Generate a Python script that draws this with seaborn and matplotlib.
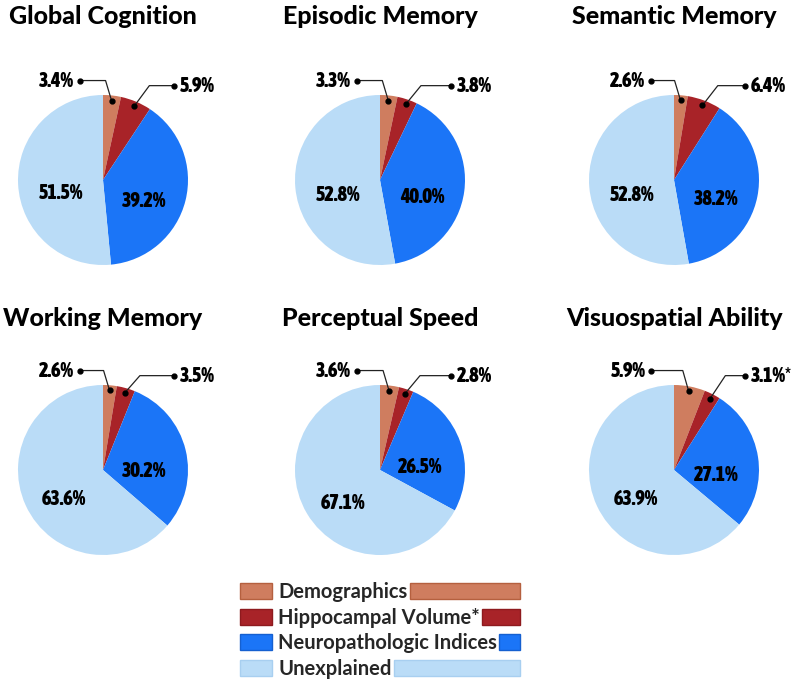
import matplotlib
matplotlib.use("Agg")
import matplotlib.pyplot as plt
from matplotlib.patches import Patch, Rectangle
from matplotlib import font_manager
from matplotlib.font_manager import FontProperties
import numpy as np
import seaborn as sns

sns.set_theme(style="white")
plt.rcParams['font.family'] = ['Lato', 'DejaVu Sans']

# ==========================
# Data
# ==========================
components = ["Demographics", "Hippocampal Volume*", "Neuropathologic Indices", "Unexplained"]
colors = ["#CF7D5F", "#A82328", "#1B75F7", "#BADCF7"]
edge_colors = ["#B5603F", "#8E1A1E", "#1560D0", "#A8CFF0"]

domains = ["Global Cognition", "Episodic Memory", "Semantic Memory",
           "Working Memory", "Perceptual Speed", "Visuospatial Ability"]

demographics = [3.4, 3.3, 2.6, 2.6, 3.6, 5.9]
hippocampal = [5.9, 3.8, 6.4, 3.5, 2.8, 3.1]
neuropath = [39.2, 40.0, 38.2, 30.2, 26.5, 27.1]
unexplained = [51.5, 52.8, 52.8, 63.6, 67.1, 63.9]
hippo_sig = ["", "", "", "", "", "*"]

# narrow bold face for the percentages: a named condensed family if present, Roboto otherwise
label_prop = None
for f in font_manager.fontManager.ttflist:
    w = f.weight if isinstance(f.weight, int) else 400
    if ('Condensed' in f.name or 'Narrow' in f.name) and w >= 600:
        label_prop = FontProperties(fname=f.fname, size=14.5)
        break
if label_prop is None:
    label_prop = FontProperties(family='Roboto', weight='bold', size=12.5)

# ==========================
# Layout (pixel centres of each pie)
# ==========================
W, H = 800, 680
fig = plt.figure(figsize=(W / 100, H / 100), dpi=100)
centers = [(103, 180), (380, 180), (674, 180),
           (103, 470), (380, 470), (674, 470)]
title_y = [17, 17, 17, 318, 318, 318]
R = 85
span = 3.2
size = R * span

for i, name in enumerate(domains):
    cx, cy = centers[i]
    ax = fig.add_axes([(cx - size / 2) / W, 1 - (cy + size / 2) / H, size / W, size / H])
    vals = [demographics[i], hippocampal[i], neuropath[i], unexplained[i]]
    wedges, _ = ax.pie(vals, colors=colors, startangle=90, counterclock=False,
                       radius=1, wedgeprops=dict(linewidth=0))
    ax.set_xlim(-span / 2, span / 2)
    ax.set_ylim(-span / 2, span / 2)
    ax.set_aspect('equal')
    ax.axis('off')

    # large slices: labels inside
    for k in (2, 3):
        w = wedges[k]
        ang = np.deg2rad((w.theta1 + w.theta2) / 2)
        ax.text(0.5 * np.cos(ang), 0.5 * np.sin(ang) - 0.13, f"{vals[k]:.1f}%",
                ha='center', va='center', color='black', fontproperties=label_prop)

    # small slices: dot + elbow leader
    w = wedges[0]
    ang = np.deg2rad((w.theta1 + w.theta2) / 2)
    px, py = 0.94 * np.cos(ang), 0.94 * np.sin(ang)
    ey = 1.17
    ax.plot([px, px - 0.07, -0.27], [py, ey, ey], color='#222222', lw=0.9)
    ax.plot([px, -0.27], [py, ey], 'o', color='black', ms=3.5)
    ax.text(-0.34, ey, f"{vals[0]:.1f}%", ha='right', va='center', color='black',
            fontproperties=label_prop)

    w = wedges[1]
    ang = np.deg2rad((w.theta1 + w.theta2) / 2)
    px, py = 0.94 * np.cos(ang), 0.94 * np.sin(ang)
    ey = 1.11
    ax.plot([px, px + 0.18, 0.84], [py, ey, ey], color='#222222', lw=0.9)
    ax.plot([px, 0.84], [py, ey], 'o', color='black', ms=3.5)
    ax.text(0.90, ey, f"{vals[1]:.1f}%" + hippo_sig[i], ha='left', va='center',
            color='black', fontproperties=label_prop)

    fig.text(cx / W, 1 - title_y[i] / H, name, ha='center', va='center',
             fontsize=18, fontweight='black', color='black')

# ==========================
# Legend (patch left, bar filling to the right)
# ==========================
handles = [Patch(facecolor=c, edgecolor=e, linewidth=1) for c, e in zip(colors, edge_colors)]
leg = fig.legend(handles, components, loc='upper left',
                 bbox_to_anchor=(240 / W, 1 - 582 / H), frameon=False,
                 prop=dict(family='Lato', weight='bold', size=14.5),
                 handlelength=1.6, handleheight=0.85,
                 handletextpad=0.3, labelspacing=0.28, borderaxespad=0, borderpad=0)

fig.canvas.draw()
renderer = fig.canvas.get_renderer()
for txt, hnd, c, e in zip(leg.get_texts(), leg.legend_handles, colors, edge_colors):
    bb = txt.get_window_extent(renderer)
    hb = hnd.get_window_extent(renderer)
    x0 = bb.x1 + 2
    x1 = 520
    fig.patches.append(Rectangle((x0 / W, hb.y0 / H), (x1 - x0) / W, hb.height / H,
                                 transform=fig.transFigure, facecolor=c, edgecolor=e,
                                 linewidth=1))

fig.savefig("out.png", dpi=100)
